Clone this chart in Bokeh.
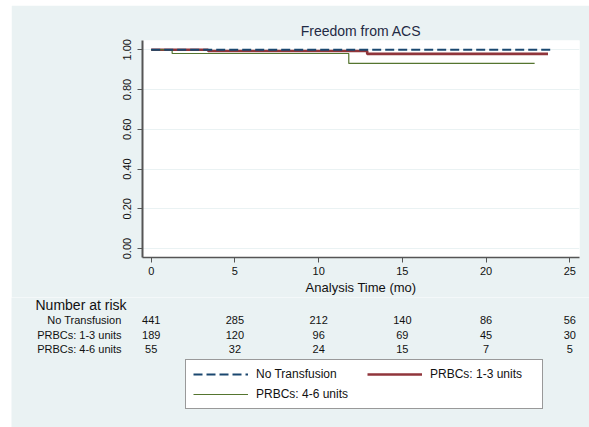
from bokeh.plotting import figure
from bokeh.layouts import column, row
from bokeh.core.properties import value
from bokeh.models import (Label, LabelSet, ColumnDataSource, Legend, LegendItem,
                          FixedTicker, NumeralTickFormatter, Range1d, Spacer)
from bokeh.embed import file_html
from bokeh.resources import INLINE

# ---------------- data ----------------
title = "Freedom from ACS"
x_label = "Analysis Time (mo)"
groups = ["No Transfusion", "PRBCs: 1-3 units", "PRBCs: 4-6 units"]

# Kaplan-Meier step curves (time of change, survival after change)
t_none = [0.0, 23.9]
s_none = [1.0, 1.0]
t_low = [0.0, 3.4, 12.9, 23.7]
s_low = [1.0, 0.994, 0.979, 0.979]
t_high = [0.0, 1.25, 11.8, 22.9]
s_high = [1.0, 0.981, 0.931, 0.931]

x_ticks = [0, 5, 10, 15, 20, 25]
y_ticks = [0.0, 0.2, 0.4, 0.6, 0.8, 1.0]

risk_times = [0, 5, 10, 15, 20, 25]
risk_none = [441, 285, 212, 140, 86, 56]
risk_low = [189, 120, 96, 69, 45, 30]
risk_high = [55, 32, 24, 15, 7, 5]

colors = ["#1a476f", "#90353b", "#55752f"]
widths = [2.2, 2.6, 1.2]
dashes = ["9 4", "solid", "solid"]
BG = "#eaf2f3"
FONT = "Liberation Sans"
TXT = "#111111"

# ---------------- main figure ----------------
OX, OY = 11, 5           # page offset of the graph region
SPLIT = 297              # page y where the risk-table panel starts
W = 589 - OX
H1 = SPLIT - OY
p = figure(width=W, height=H1, output_backend="svg", toolbar_location=None,
           x_range=Range1d(-0.52, 25.58), y_range=Range1d(-0.045, 1.0465),
           min_border_left=142 - OX, min_border_right=10, min_border_top=40 - OY,
           min_border_bottom=SPLIT - 258)
p.title.text = title
p.title.align = "center"
p.title.text_font = FONT
p.title.text_font_size = "14px"
p.title.text_font_style = "normal"
p.title.text_color = "#1f2a44"
p.title.standoff = 4
p.border_fill_color = BG
p.background_fill_color = "white"
p.outline_line_color = None

p.xgrid.visible = False
p.ygrid.grid_line_color = BG
p.ygrid.grid_line_width = 1
p.ygrid.ticker = FixedTicker(ticks=y_ticks)

for ax in (p.xaxis[0], p.yaxis[0]):
    ax.axis_line_color = "#555555"
    ax.axis_line_width = 1.5
    ax.major_tick_line_color = "#555555"
    ax.major_tick_in = 0
    ax.major_tick_out = 5
    ax.minor_tick_line_color = None
    ax.major_label_text_font = FONT
    ax.major_label_text_font_size = "11px"
    ax.major_label_text_color = TXT

p.xaxis.ticker = FixedTicker(ticks=x_ticks)
p.xaxis.major_label_standoff = 4
p.xaxis.axis_label = x_label
p.xaxis.axis_label_text_font = FONT
p.xaxis.axis_label_text_font_size = "13px"
p.xaxis.axis_label_text_font_style = "normal"
p.xaxis.axis_label_text_color = TXT
p.xaxis.axis_label_standoff = 2

p.yaxis.ticker = FixedTicker(ticks=y_ticks)
p.yaxis.formatter = NumeralTickFormatter(format="0.00")
p.yaxis.major_label_orientation = "vertical"
p.yaxis.major_label_standoff = 6
p.yaxis.axis_line_width = 2

curves = [(t_none, s_none), (t_low, s_low), (t_high, s_high)]
draw_order = [1, 2, 0]   # navy dashed on top
for i in draw_order:
    t, s = curves[i]
    p.step(t, s, mode="after", line_color=colors[i], line_width=widths[i],
           line_dash=dashes[i])

# ---------------- risk table + legend figure ----------------
H2 = 427 - SPLIT
PX0, PX_PER = 150.7, 16.744   # page x of t=0, px per month (same as main axis)
q = figure(width=W, height=H2, output_backend="svg", toolbar_location=None,
           x_range=Range1d((OX - PX0) / PX_PER, (589 - PX0) / PX_PER),
           y_range=Range1d(427, SPLIT),
           min_border_left=0, min_border_right=0, min_border_top=0,
           min_border_bottom=0)
q.axis.visible = False
q.grid.visible = False
q.outline_line_color = None
q.background_fill_color = BG
q.border_fill_color = BG

def tx(px):
    return (px - PX0) / PX_PER

q.add_layout(Label(x=tx(35), y=304, text="Number at risk", text_align="left",
                   text_baseline="middle", text_font=FONT, text_font_size="14px",
                   text_color=TXT))

row_py = [319.3, 334.0, 348.5]
for grp, vals, py in zip(groups, [risk_none, risk_low, risk_high], row_py):
    q.add_layout(Label(x=tx(121), y=py, text=grp, text_align="right",
                       text_baseline="middle", text_font=FONT, text_font_size="11px",
                       text_color=TXT))
    src = ColumnDataSource(dict(x=risk_times, y=[py] * len(risk_times),
                                t=[str(v) for v in vals]))
    q.add_layout(LabelSet(x="x", y="y", text="t", source=src, text_align="center",
                          text_baseline="middle", text_font=value(FONT),
                          text_font_size=value("11px"), text_color=TXT))

# legend proxies: same curves/styles, in this panel (their values fall outside its
# visible range, so only their legend glyphs show)
proxies = [q.step(curves[i][0], curves[i][1], mode="after", line_color=colors[i],
                  line_width=widths[i], line_dash=dashes[i]) for i in range(3)]

legend = Legend(items=[LegendItem(label=groups[i], renderers=[proxies[i]])
                       for i in range(3)],
                orientation="horizontal", ncols=2,
                location=(185 - OX, 427 - 361 - 48),
                glyph_width=55, glyph_height=14, label_standoff=8, label_width=105,
                spacing=6, padding=7, margin=0,
                label_text_font=FONT, label_text_font_size="12px",
                label_text_color=TXT, label_height=14,
                border_line_color="#333333", border_line_width=1,
                background_fill_color="white", background_fill_alpha=1.0)
q.add_layout(legend, "center")

layout = column(Spacer(height=OY, width=589),
                row(Spacer(width=OX, height=427 - OY), column(p, row(q))))
open("out.html", "w").write(file_html(layout, INLINE))
